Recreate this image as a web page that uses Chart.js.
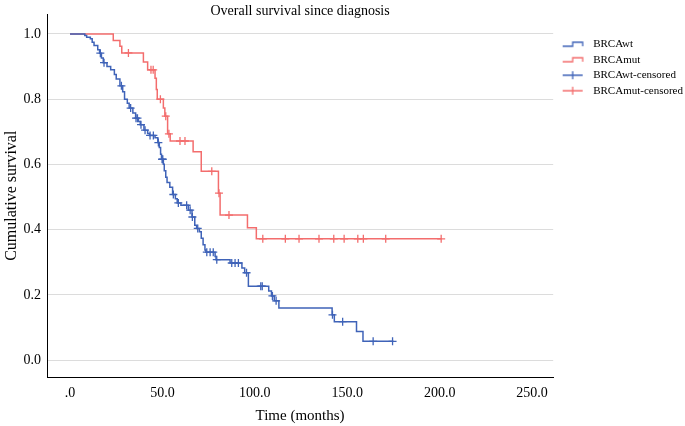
<!DOCTYPE html>
<html>
<head>
<meta charset="utf-8">
<script src="https://cdn.jsdelivr.net/npm/chart.js@4/dist/chart.umd.min.js"></script>
<style>
  html, body { margin: 0; padding: 0; background: #fff; }
</style>
</head>
<body>
<canvas id="km" width="685" height="426"></canvas>
<script>
// Kaplan-Meier steps: time of drop (months) and survival after it
const wtTimes = [0, 8, 9, 11, 12, 13, 15, 16, 17, 18, 20, 22, 24, 25, 27, 28.5, 29.5, 31, 32, 34,
  35.5, 37, 38, 40, 42, 43, 46, 47.5, 48.3, 49, 49.5, 50.5, 51, 51.8, 52.5, 54, 55.5, 57, 58, 60,
  64, 66, 67.5, 68.5, 70, 71, 72, 73, 73.5, 78.5, 79, 86.6, 93, 94.5, 96.5, 107.5, 109, 110.5, 113,
  141.8, 143, 155, 158.5];
const wtSurv = [1, 0.995, 0.99, 0.985, 0.975, 0.965, 0.952, 0.941, 0.926, 0.912, 0.9, 0.89, 0.876, 0.862, 0.841, 0.823, 0.8, 0.788, 0.773, 0.758,
  0.742, 0.732, 0.722, 0.705, 0.695, 0.689, 0.682, 0.667, 0.652, 0.631, 0.616, 0.601, 0.581, 0.561, 0.545, 0.53, 0.508, 0.495, 0.482, 0.475,
  0.46, 0.439, 0.414, 0.404, 0.394, 0.374, 0.354, 0.338, 0.331, 0.318, 0.308, 0.298, 0.283, 0.268, 0.227, 0.212, 0.197, 0.182, 0.16,
  0.139, 0.118, 0.088, 0.058];
const wtLast = 175;
const wtCensored = [16.4, 18.4, 27.8, 32.8, 35.7, 36.5, 38.4, 40.6, 43.3, 45.1, 47.8, 49.8, 50.2, 55.9, 58.6,
  63.1, 65, 66.2, 69.1, 74, 75.8, 77.5, 79.4, 87.5, 89.3, 91.1, 95.5, 103.2, 104, 109.5, 111.5, 142, 147.5, 164, 174.5];

const mutTimes = [0, 23.4, 27, 28, 39.7, 42, 46, 46.7, 47.2, 50.5, 51.3, 52.8, 54.2, 66.6, 71, 80.3, 81.2, 96, 100.8];
const mutSurv = [1, 0.98, 0.962, 0.942, 0.914, 0.89, 0.864, 0.83, 0.8, 0.773, 0.748, 0.694, 0.672, 0.639, 0.579, 0.512, 0.445, 0.406, 0.372];
const mutLast = 201;
const mutCensored = [31.6, 43.8, 45, 48.9, 51.8, 53.5, 59.5, 62.2, 76.7, 80.6, 86, 104.3, 116.5, 123.9,
  134.7, 142.7, 148.3, 155.7, 158.7, 170.8, 200.8];

const xTicks = [0, 50, 100, 150, 200, 250];
const yTicks = [0, 0.2, 0.4, 0.6, 0.8, 1.0];

const BLUE = '#3f63b8';
const RED = '#f36d6d';
const SERIF = '"Liberation Serif", "Times New Roman", serif';

function survAt(times, surv, t) {
  let s = surv[0];
  for (let i = 0; i < times.length; i++) {
    if (times[i] <= t) s = surv[i];
  }
  return s;
}

function curve(times, surv, last) {
  const pts = times.map((t, i) => ({ x: t, y: surv[i] }));
  pts.push({ x: last, y: surv[surv.length - 1] });
  return pts;
}

function marks(censored, times, surv) {
  return censored.map(t => ({ x: t, y: survAt(times, surv, t) }));
}

// little legend symbols: a step for the curves, a plus for censored cases
function icon(color, kind) {
  const c = document.createElement('canvas');
  c.width = 30;
  c.height = 10;
  const g = c.getContext('2d');
  g.strokeStyle = color;
  g.lineWidth = 1.3;
  g.beginPath();
  if (kind === 'step') {
    g.moveTo(5, 7); g.lineTo(15, 7); g.lineTo(15, 3); g.lineTo(25, 3); g.lineTo(25, 7);
  } else {
    g.moveTo(5, 5); g.lineTo(25, 5); g.moveTo(15, 1); g.lineTo(15, 9);
  }
  g.stroke();
  return c;
}
const legendIcons = [icon(BLUE, 'step'), icon(RED, 'step'), icon(BLUE, 'cross'), icon(RED, 'cross')];

new Chart(document.getElementById('km'), {
  type: 'scatter',
  data: {
    datasets: [
      { label: 'BRCAwt', data: curve(wtTimes, wtSurv, wtLast), showLine: true, stepped: 'before',
        borderColor: BLUE, borderWidth: 1.5, pointRadius: 0 },
      { label: 'BRCAmut', data: curve(mutTimes, mutSurv, mutLast), showLine: true, stepped: 'before',
        borderColor: RED, borderWidth: 1.5, pointRadius: 0 },
      { label: 'BRCAwt-censored', data: marks(wtCensored, wtTimes, wtSurv), pointStyle: 'cross',
        pointRadius: 4, borderColor: BLUE, backgroundColor: BLUE, pointBorderWidth: 1.3 },
      { label: 'BRCAmut-censored', data: marks(mutCensored, mutTimes, mutSurv), pointStyle: 'cross',
        pointRadius: 4, borderColor: RED, backgroundColor: RED, pointBorderWidth: 1.3 }
    ]
  },
  options: {
    responsive: false,
    animation: false,
    layout: { padding: { right: -8 } },
    scales: {
      x: {
        type: 'linear',
        min: -12.45,
        max: 261.4,
        afterBuildTicks: s => { s.ticks = xTicks.map(v => ({ value: v })); },
        afterFit: s => { s.height = 49; },
        grid: { display: false },
        border: { color: '#000', width: 1 },
        ticks: {
          callback: v => (v === 0 ? '.0' : v.toFixed(1)),
          font: { family: SERIF, size: 14 },
          color: '#000',
          padding: 0
        },
        title: {
          display: true,
          text: 'Time (months)',
          font: { family: SERIF, size: 15 },
          color: '#000',
          padding: { top: 0, bottom: 1 }
        }
      },
      y: {
        min: -0.0515,
        max: 1.06,
        afterBuildTicks: s => { s.ticks = yTicks.map(v => ({ value: v })); },
        afterFit: s => { s.width = 47; },
        grid: { color: '#dcdcdc', drawTicks: false },
        border: { color: '#000', width: 1 },
        ticks: {
          callback: v => v.toFixed(1),
          font: { family: SERIF, size: 14 },
          color: '#000',
          padding: 6
        },
        title: {
          display: true,
          text: 'Cumulative survival',
          font: { family: SERIF, size: 16 },
          color: '#000',
          padding: { top: 2, bottom: 0 }
        }
      }
    },
    plugins: {
      title: {
        display: true,
        text: 'Overall survival since diagnosis',
        fullSize: false,
        font: { family: SERIF, size: 14, weight: 'normal' },
        color: '#000',
        padding: { top: -1.5, bottom: -5.3 }
      },
      legend: {
        position: 'right',
        align: 'start',
        title: { display: true, text: ' ', font: { family: SERIF, size: 11 }, padding: { top: 21, bottom: 0 } },
        labels: {
          usePointStyle: true,
          pointStyleWidth: 30,
          padding: 4.5,
          color: '#000',
          font: { family: SERIF, size: 11 },
          generateLabels: chart => {
            const items = Chart.defaults.plugins.legend.labels.generateLabels(chart);
            items.forEach((it, i) => { it.pointStyle = legendIcons[i]; });
            return items;
          }
        }
      },
      tooltip: { enabled: false }
    }
  }
});
</script>
</body>
</html>
